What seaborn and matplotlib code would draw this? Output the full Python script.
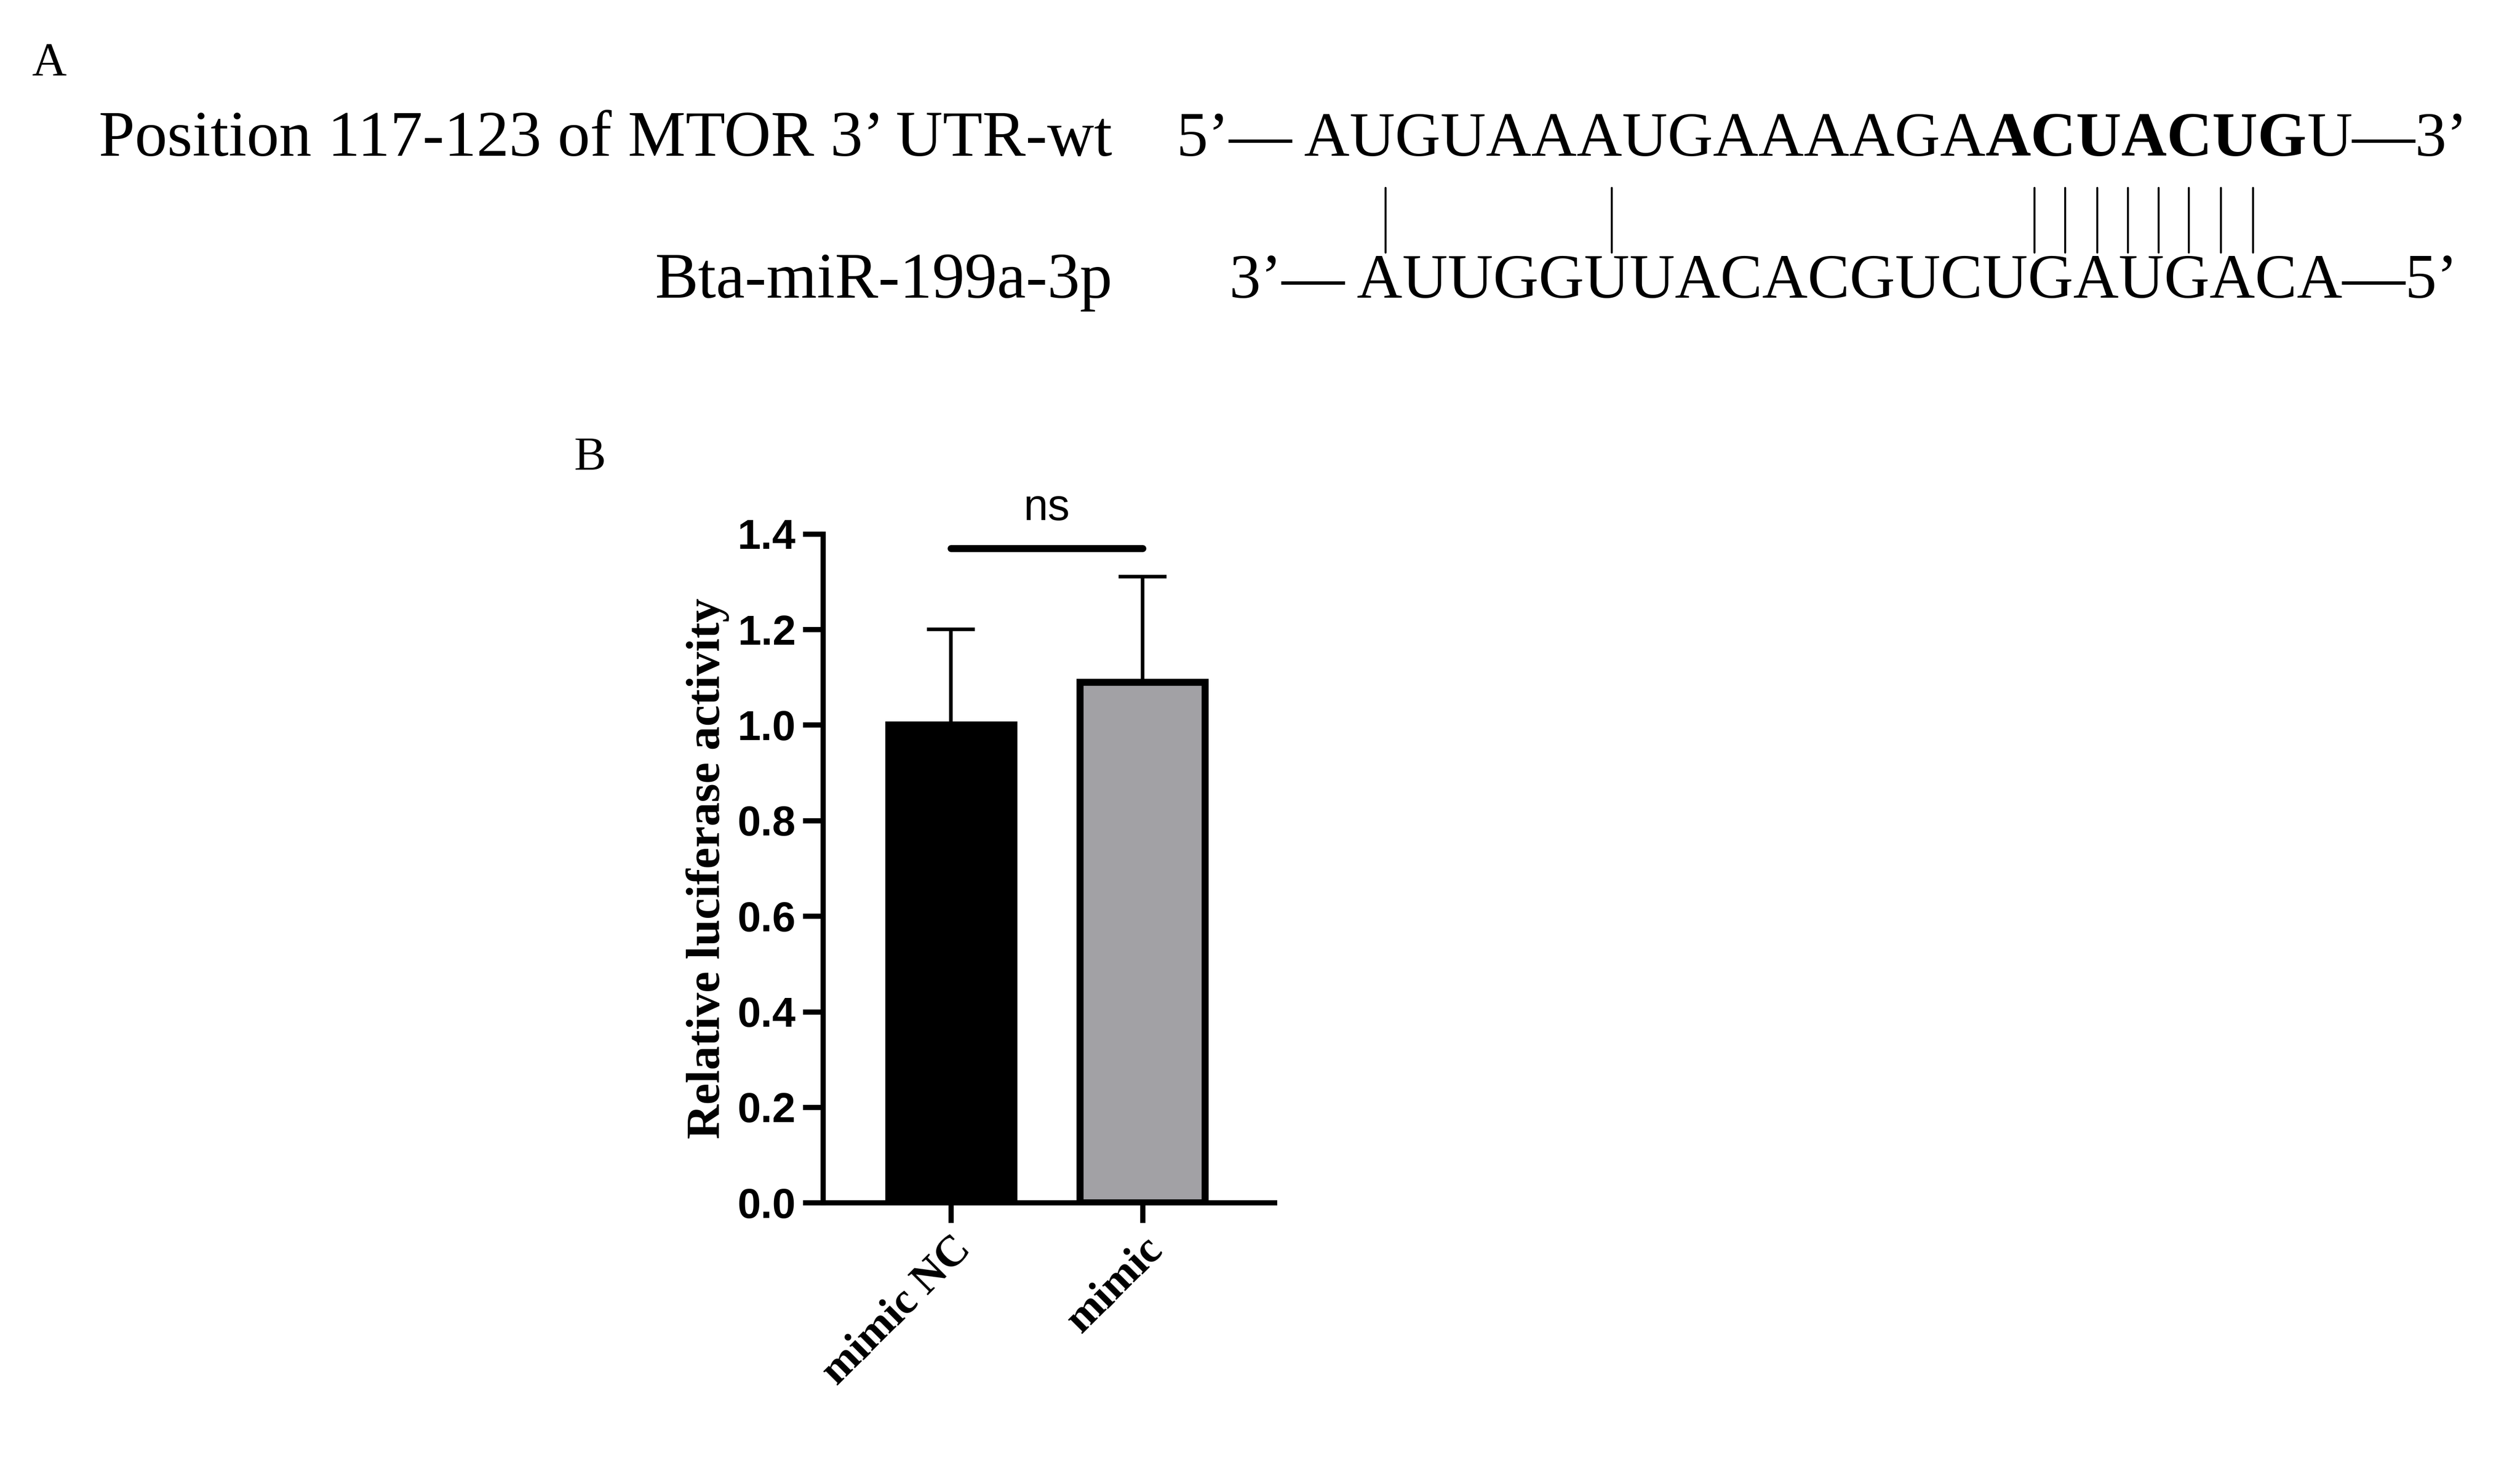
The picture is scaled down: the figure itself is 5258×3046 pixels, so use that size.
import matplotlib
matplotlib.use("Agg")
import matplotlib.pyplot as plt
from matplotlib.text import Annotation
import seaborn as sns
import pandas as pd

groups = ["mimic NC", "mimic"]
values = [1.00, 1.09]
errors = [0.20, 0.22]
colors = ["#000000", "#a2a1a5"]
yticks = [0.0, 0.2, 0.4, 0.6, 0.8, 1.0, 1.2, 1.4]

sns.set_theme(style="ticks")
plt.rcParams['font.family'] = ['Liberation Serif', 'DejaVu Serif']
for k in ['text.color', 'axes.labelcolor', 'xtick.color', 'ytick.color', 'axes.edgecolor']:
    plt.rcParams[k] = 'black'

fig = plt.figure(figsize=(5258/300, 3046/300), dpi=300)
W, H = 1568, 908
def fx(x): return x / W
def fy(y): return 1 - y / H

fs = 32.5
fs2 = 31.5
fig.text(fx(20), fy(47), "A", fontsize=24, va='baseline')
fig.text(fx(692), fy(97), "Position 117-123 of MTOR 3\u2019 UTR-wt", fontsize=fs, ha='right', va='baseline')
fig.text(fx(692), fy(185), "Bta-miR-199a-3p", fontsize=fs, ha='right', va='baseline')

pieces = [("5\u2019\u2014 AUGUAAAUGAAAAGA", 'normal'), ("ACUACUG", 'bold'), ("U\u20143\u2019", 'normal')]
prev = fig.text(fx(732), fy(97), pieces[0][0], fontsize=fs2, va='baseline')
for s, w in pieces[1:]:
    a = Annotation(s, xy=(1, 0), xycoords=prev, fontsize=fs2, fontweight=w, va='bottom', ha='left',
                   annotation_clip=False)
    fig.add_artist(a)
    prev = a
fig.text(fx(765), fy(185), "3\u2019\u2014 AUUGGUUACACGUCUGAUGACA\u20145\u2019", fontsize=fs2, va='baseline')

pairs_x = [862, 1003, 1266, 1285, 1305, 1324, 1343, 1362, 1382, 1402]
for x in pairs_x:
    fig.add_artist(plt.Line2D([fx(x), fx(x)], [fy(117), fy(157)], color='black', lw=1.0))

fig.text(fx(357), fy(292), "B", fontsize=24, va='baseline')

ax = fig.add_axes([fx(512), fy(748), fx(793) - fx(512), fy(332) - fy(748)])
df = pd.DataFrame({"group": groups, "value": values})
sns.barplot(data=df, x="group", y="value", hue="group", palette=colors, ax=ax, width=0.655,
            edgecolor='black', linewidth=3.5, legend=False, errorbar=None)
ax.errorbar(range(len(groups)), values, yerr=[[0]*len(errors), errors], fmt='none',
            ecolor='black', elinewidth=1.8, capsize=12, capthick=1.8, zorder=0)
ax.set_ylim(0, 1.4)
ax.set_xlim(-0.67, 1.69)
ax.set_yticks(yticks)
ax.set_yticklabels([f"{v:.1f}" for v in yticks], fontfamily='Liberation Sans', fontweight='bold', fontsize=21)
ax.set_xticks(range(len(groups)))
ax.set_xticklabels(groups, rotation=45, ha='right', rotation_mode='anchor', fontweight='bold', fontsize=22)
ax.set_xlabel("")
ax.set_ylabel("Relative luciferase activity", fontweight='bold', fontsize=24)
for s in ['top', 'right']:
    ax.spines[s].set_visible(False)
for s in ['left', 'bottom']:
    ax.spines[s].set_linewidth(2.6)
ax.tick_params(width=2.6, length=10)

ax.plot([0, 1], [1.37, 1.37], color='black', lw=3.5, clip_on=False)
ax.text(0.5, 1.41, "ns", ha='center', va='bottom', fontsize=22, fontfamily='Liberation Sans')

fig.savefig("out.png", dpi=300)
